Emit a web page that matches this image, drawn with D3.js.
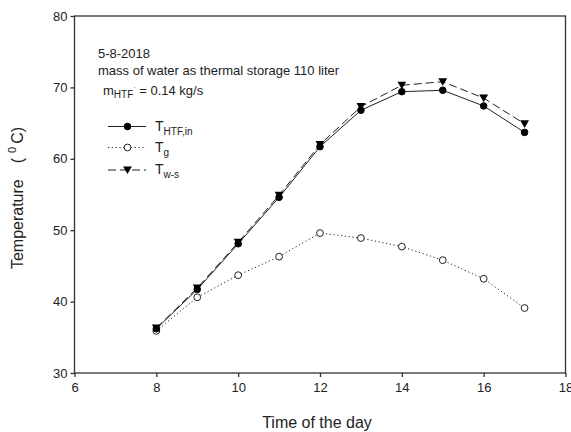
<!DOCTYPE html>
<html lang="en">
<head>
  <meta charset="UTF-8">
  <title>Temperature</title>
  <script src="https://cdn.jsdelivr.net/npm/d3@7"></script>
  <style>
    body { margin: 0; background: #fff; }
    text { font-family: "Liberation Sans", Arial, sans-serif; fill: #222; }
  </style>
</head>
<body>
<div id="chart"></div>
<script>
  // data
  var hours = [8, 9, 10, 11, 12, 13, 14, 15, 16, 17];
  var tHtfIn = [36.2, 41.7, 48.1, 54.6, 61.7, 66.8, 69.4, 69.6, 67.4, 63.7];
  var tG = [35.9, 40.6, 43.7, 46.3, 49.6, 48.9, 47.7, 45.8, 43.2, 39.1];
  var tWs = [36.3, 41.9, 48.3, 54.9, 62.0, 67.3, 70.3, 70.8, 68.5, 64.9];
  var xTicks = [6, 8, 10, 12, 14, 16, 18];
  var yTicks = [30, 40, 50, 60, 70, 80];

  var width = 571, height = 432;
  var svg = d3.select("#chart").append("svg")
      .attr("width", width)
      .attr("height", height);

  var x = d3.scaleLinear().domain([6, 18]).range([74.5, 565.5]);
  var y = d3.scaleLinear().domain([30, 80]).range([373, 16]);

  // frame
  svg.append("rect")
      .attr("x", x(6)).attr("y", y(80))
      .attr("width", x(18) - x(6)).attr("height", y(30) - y(80))
      .style("fill", "none").style("stroke", "#333").style("stroke-width", 1.3);

  var xAxis = svg.append("g")
      .attr("transform", "translate(0," + y(30) + ")")
      .call(d3.axisBottom(x).tickValues(xTicks).tickSize(4).tickPadding(6));
  var yAxis = svg.append("g")
      .attr("transform", "translate(" + x(6) + ",0)")
      .call(d3.axisLeft(y).tickValues(yTicks).tickSize(4).tickPadding(3));

  [xAxis, yAxis].forEach(function(a) {
    a.select(".domain").remove();
    a.selectAll("line").style("stroke", "#333").style("stroke-width", 1.3);
    a.selectAll("text").style("font-size", "13px")
      .style("font-family", "'Liberation Sans', Arial, sans-serif").style("fill", "#222");
  });

  // axis titles
  svg.append("text")
      .attr("x", 317).attr("y", 428)
      .attr("text-anchor", "middle")
      .style("font-size", "16px")
      .text("Time of the day");

  var yt = svg.append("text")
      .attr("transform", "translate(23,198) rotate(-90)")
      .attr("text-anchor", "middle")
      .style("font-size", "16px");
  yt.append("tspan").text("Temperature");
  yt.append("tspan").attr("dx", 16).text("(");
  yt.append("tspan").attr("dx", 5).attr("dy", -7).style("font-size", "11px").text("0");
  yt.append("tspan").attr("dx", 3).attr("dy", 7).text("C)");

  // series
  var series = [
    { name: "HTF,in", values: tHtfIn, dash: null, marker: "dot" },
    { name: "g", values: tG, dash: "1.2,2.6", marker: "ring" },
    { name: "w-s", values: tWs, dash: "8,4", marker: "tri" }
  ];

  var line = d3.line()
      .x(function(d, i) { return x(hours[i]); })
      .y(function(d) { return y(d); });

  var triangle = d3.symbol().type(d3.symbolTriangle).size(34);

  function drawMarker(g, kind, cx, cy) {
    if (kind === "dot") {
      g.append("circle").attr("cx", cx).attr("cy", cy).attr("r", 3.3)
        .style("fill", "#000").style("stroke", "#000");
    } else if (kind === "ring") {
      g.append("circle").attr("cx", cx).attr("cy", cy).attr("r", 3.4)
        .style("fill", "#fff").style("stroke", "#222").style("stroke-width", 1);
    } else {
      g.append("path").attr("d", triangle)
        .attr("transform", "translate(" + cx + "," + (cy - 1) + ") rotate(180)")
        .style("fill", "#000");
    }
  }

  series.forEach(function(s) {
    var p = svg.append("path")
        .datum(s.values)
        .attr("d", line)
        .style("fill", "none")
        .style("stroke", "#222")
        .style("stroke-width", 1);
    if (s.dash) p.style("stroke-dasharray", s.dash);
  });

  // markers on top
  series.slice().reverse().forEach(function(s) {
    var g = svg.append("g");
    s.values.forEach(function(v, i) {
      drawMarker(g, s.marker, x(hours[i]), y(v));
    });
  });

  // annotation
  svg.append("text").attr("x", 98).attr("y", 58)
      .style("font-size", "13px").text("5-8-2018");
  svg.append("text").attr("x", 98).attr("y", 75)
      .style("font-size", "13px").text("mass of water as thermal storage 110 liter");
  var m = svg.append("text").attr("x", 103).attr("y", 95)
      .style("font-size", "13px");
  m.append("tspan").text("m");
  m.append("tspan").attr("dy", 3).style("font-size", "10px").text("HTF");
  m.append("tspan").attr("dy", -8).style("font-size", "7px").text("·");
  m.append("tspan").attr("dy", 5).text(" = 0.14 kg/s");

  // legend
  var legendY = [126.5, 147.5, 170];
  series.forEach(function(s, i) {
    var ly = legendY[i];
    var l = svg.append("line")
        .attr("x1", 108).attr("x2", 146)
        .attr("y1", ly).attr("y2", ly)
        .style("stroke", "#222").style("stroke-width", 1);
    if (s.dash) l.style("stroke-dasharray", s.dash);
    drawMarker(svg.append("g"), s.marker, 127.5, ly);
    var t = svg.append("text").attr("x", 155).attr("y", ly + 4)
        .style("font-size", "14px");
    t.append("tspan").text("T");
    t.append("tspan").attr("dy", 4).style("font-size", "10px").text(s.name);
  });
</script>
</body>
</html>
